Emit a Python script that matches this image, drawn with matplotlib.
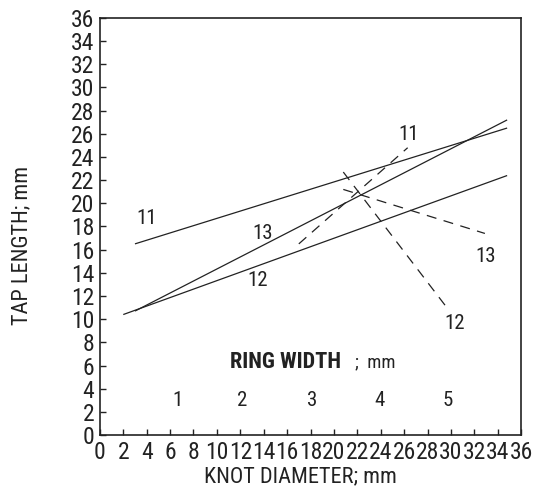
import matplotlib
matplotlib.use("Agg")
import matplotlib.pyplot as plt

plt.rcParams['font.family'] = ['Roboto Condensed', 'DejaVu Sans']

# Solid regression lines (knot diameter -> tap length)
solid_labels = ["11", "12", "13"]
solid_x = [[3.0, 34.8], [2.0, 34.8], [3.0, 34.8]]
solid_y = [[16.5, 26.5], [10.4, 22.4], [10.7, 27.2]]
solid_label_xy = [(4.0, 18.7), (13.5, 13.3), (13.9, 17.4)]

# Dashed lines
dashed_labels = ["11", "12", "13"]
dashed_x = [[17.0, 26.3], [20.8, 29.8], [20.8, 32.9]]
dashed_y = [[16.5, 24.8], [22.7, 10.8], [21.2, 17.4]]
dashed_label_xy = [(26.4, 25.9), (30.3, 9.6), (33.0, 15.4)]

# Ring width scale
ring_width = ["1", "2", "3", "4", "5"]
ring_width_x = [6.6, 12.2, 18.1, 23.9, 29.7]

ticks = list(range(0, 37, 2))
INK = '#222222'

fig = plt.figure(figsize=(5.34, 4.94), dpi=100)
ax = fig.add_axes([0.187, 0.1194, 0.789, 0.8442])

for xs, ys in zip(solid_x, solid_y):
    ax.plot(xs, ys, color=INK, lw=0.9, solid_capstyle='butt')
for lab, (tx, ty) in zip(solid_labels, solid_label_xy):
    ax.text(tx, ty, lab, fontsize=15, ha='center', va='center', color=INK)

for xs, ys in zip(dashed_x, dashed_y):
    ax.plot(xs, ys, color=INK, lw=0.9, linestyle=(0, (8, 6)))
for lab, (tx, ty) in zip(dashed_labels, dashed_label_xy):
    ax.text(tx, ty, lab, fontsize=15, ha='center', va='center', color=INK)

for lab, tx in zip(ring_width, ring_width_x):
    ax.text(tx, 3.0, lab, fontsize=15, ha='center', va='center', color=INK)

ax.text(11.1, 6.3, "RING WIDTH", fontsize=16, fontweight='bold', ha='left', va='center', color=INK)
ax.text(21.8, 6.3, ";  mm", fontsize=13.5, ha='left', va='center', color=INK)

ax.set_xlim(0, 36)
ax.set_ylim(0, 36)
ax.set_xticks(ticks)
ax.set_yticks(ticks)
ax.tick_params(direction='in', length=4, width=1.0, labelsize=17, pad=4, colors=INK)
for s in ax.spines.values():
    s.set_linewidth(1.2)
    s.set_color(INK)

fig.text(300 / 534, 1 - 477 / 494, "KNOT DIAMETER; mm", fontsize=16, ha='center', va='center', color=INK)
fig.text(22 / 534, 1 - 245 / 494, "TAP LENGTH; mm", fontsize=16, ha='center', va='center',
         rotation=90, color=INK)

fig.savefig("out.png", dpi=100)
